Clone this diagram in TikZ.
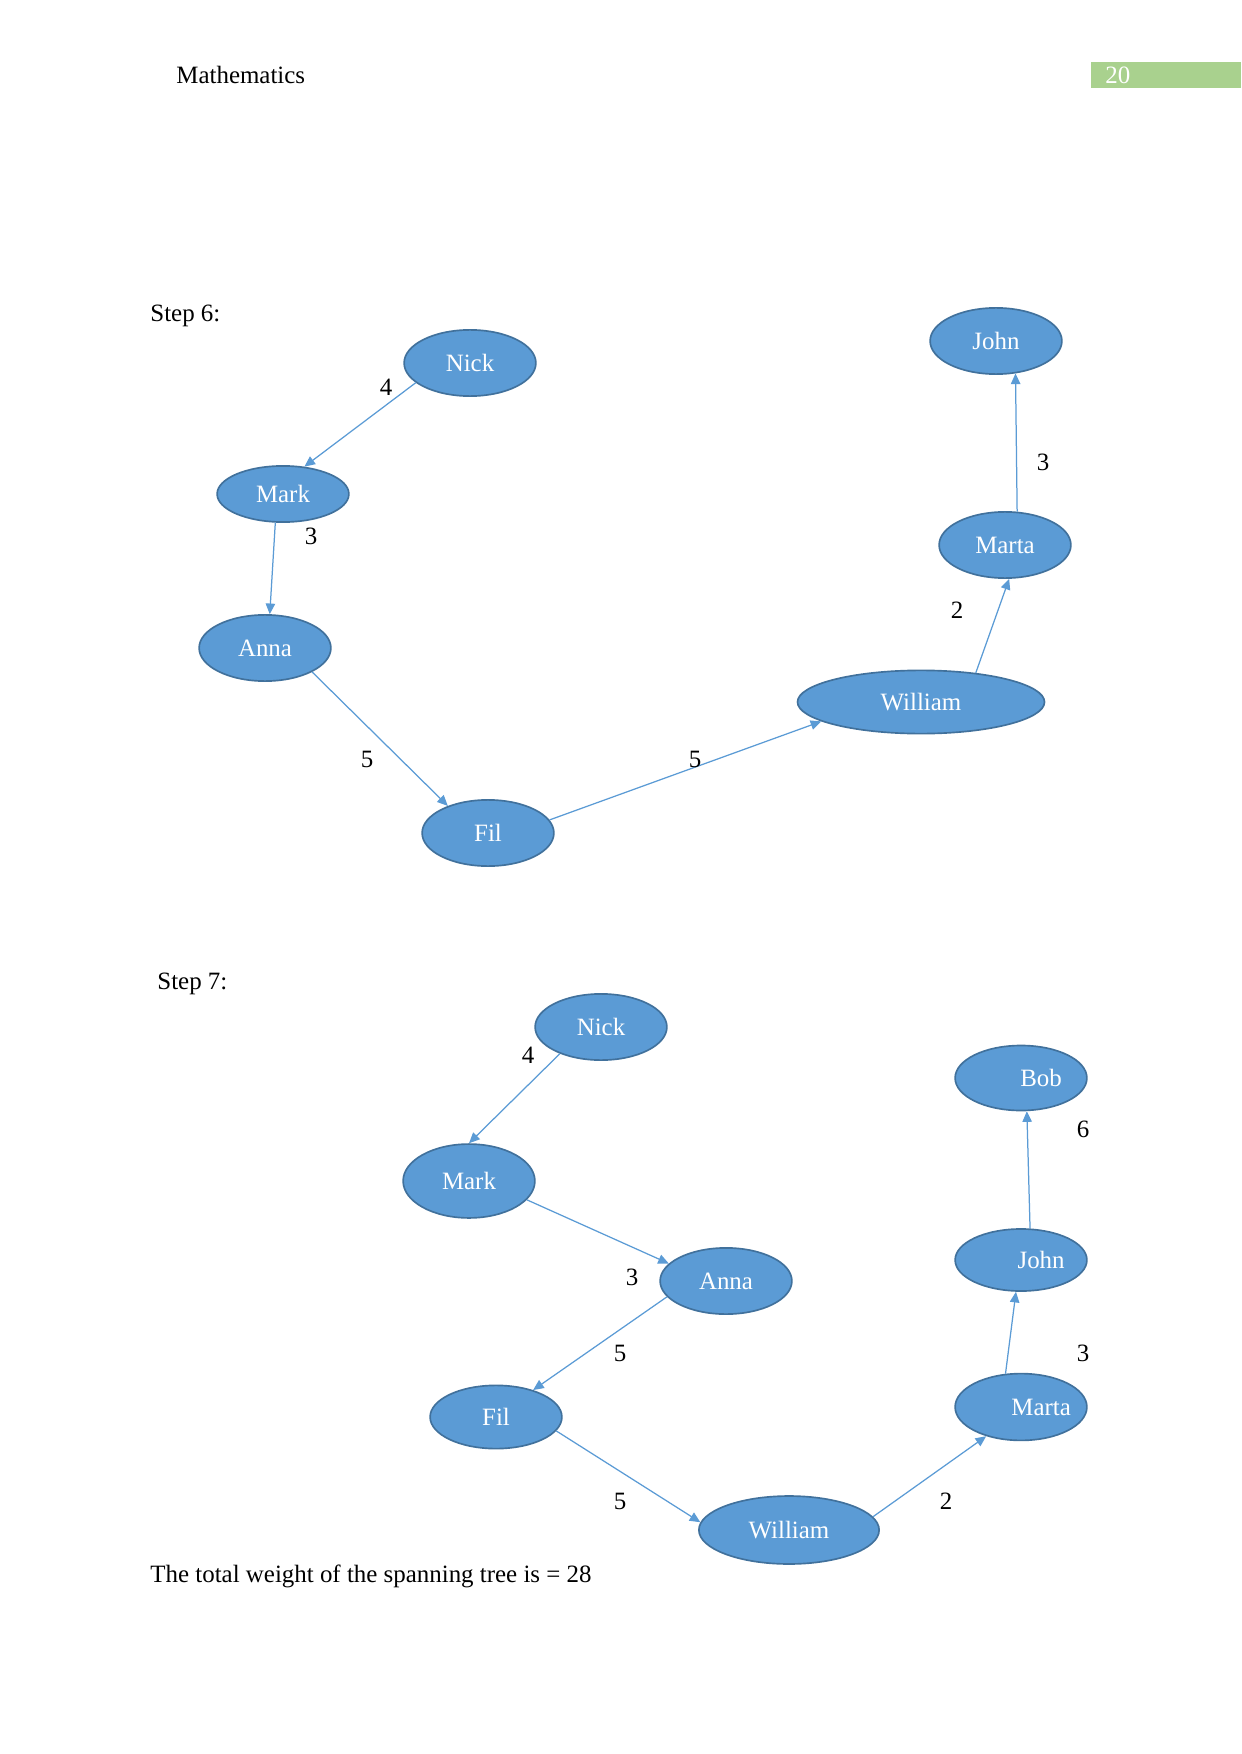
\documentclass[tikz,border=0pt]{standalone}
\usepackage{fontspec}
\setmainfont{Liberation Serif}
\usepackage{tikz}
\usetikzlibrary{arrows.meta,shapes.geometric}
\definecolor{Blue}{HTML}{5B9BD5}
\definecolor{Rim}{HTML}{41719C}
\definecolor{Header}{HTML}{A9D18E}

\begin{document}
\begin{tikzpicture}[x=0.016922cm, y=-0.016922cm, every node/.style={font=\fontsize{12}{14}\selectfont}]
\tikzstyle{person}=[ellipse,draw=Rim,line width=.8pt,fill=Blue,text=white,inner sep=0pt,minimum width=2.23cm,minimum height=1.12cm]
\tikzstyle{link}=[draw=Blue,line width=.6pt,-{Triangle[length=1.8mm,width=1.6mm]}]
\tikzstyle{weight}=[text=black,inner sep=1pt]
\tikzstyle{plain}=[anchor=west,inner sep=0pt]
\useasboundingbox (0,0) rectangle (1241,1754);
% page header
\node[plain] (head) at (176,75) {Mathematics};
\fill[Header] (1091,62) rectangle (1241,88);
\node[plain,text=white] (pagenum) at (1105,75) {20};
% step 6
\node[plain] (step6) at (150,316) {Step 6:};
\node[person] (nick6) at (470,363) {Nick};
\node[person] (john6) at (996,341) {John};
\node[person,minimum height=.95cm] (mark6) at (283,494) {Mark};
\node[person] (marta6) at (1005,545) {Marta};
\node[person] (anna6) at (265,648) {Anna};
\node[person,minimum width=4.18cm,minimum height=1.07cm] (william6) at (921,702) {William};
\node[person] (fil6) at (488,833) {Fil};
\draw[link] (nick6.200) -- (mark6.52);
\draw[link] (mark6.255) -- (anna6.82);
\draw[link] (anna6.333) -- (fil6.146);
\draw[link] (fil6.12) -- (william6.191);
\draw[link] (william6.28) -- (marta6.277);
\draw[link] (marta6.70) -- (john6.301);
\node[weight] (w6a) at (386,387) {4};
\node[weight] (w6b) at (311,536) {3};
\node[weight] (w6c) at (367,759) {5};
\node[weight] (w6d) at (695,759) {5};
\node[weight] (w6e) at (957,610) {2};
\node[weight] (w6f) at (1043,462) {3};
% step 7
\node[plain] (step7) at (157,984) {Step 7:};
\node[person] (nick7) at (601,1027) {Nick};
\node[person,minimum height=1.1cm] (bob7) at (1021,1078) {\makebox[0pt]{\hspace*{.68cm}Bob}};
\node[person,minimum height=1.25cm] (mark7) at (469,1181) {Mark};
\node[person,minimum height=1.05cm] (john7) at (1021,1260) {\makebox[0pt]{\hspace*{.68cm}John}};
\node[person] (anna7) at (726,1281) {Anna};
\node[person,minimum height=1.13cm] (marta7) at (1021,1407) {\makebox[0pt]{\hspace*{.68cm}Marta}};
\node[person,minimum height=1.07cm] (fil7) at (496,1417) {Fil};
\node[person,minimum width=3.05cm,minimum height=1.15cm] (william7) at (789,1530) {William};
\draw[link] (nick7.213) -- (mark7.90);
\draw[link] (mark7.342) -- (anna7.163);
\draw[link] (anna7.195) -- (fil7.36);
\draw[link] (fil7.347) -- (william7.175);
\draw[link] (william7.9) -- (marta7.220);
\draw[link] (marta7.115) -- (john7.261);
\draw[link] (john7.74) -- (bob7.280);
\node[weight] (w7a) at (528,1055) {4};
\node[weight] (w7b) at (632,1277) {3};
\node[weight] (w7c) at (620,1353) {5};
\node[weight] (w7d) at (620,1501) {5};
\node[weight] (w7e) at (946,1501) {2};
\node[weight] (w7f) at (1083,1353) {3};
\node[weight] (w7g) at (1083,1129) {6};
\node[plain] (total) at (150,1576) {The total weight of the spanning tree is = 28};
\end{tikzpicture}
\end{document}
